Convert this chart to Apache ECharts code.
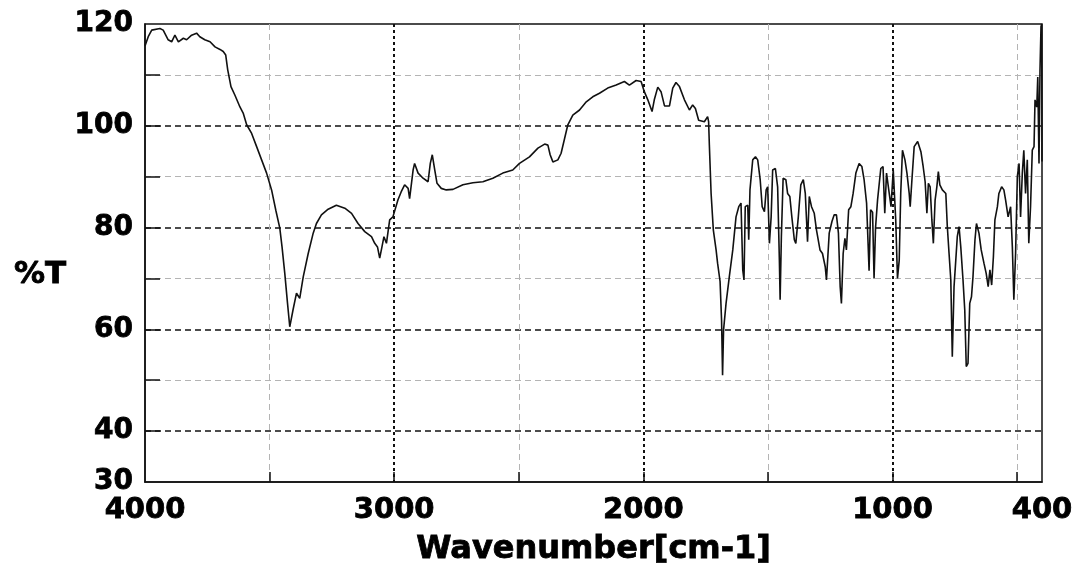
<!DOCTYPE html>
<html>
<head>
<meta charset="utf-8">
<script src="https://cdn.jsdelivr.net/npm/echarts@6/dist/echarts.min.js"></script>
<style>
html, body { margin: 0; padding: 0; background: #fff; }
#chart { width: 1075px; height: 567px; }
</style>
</head>
<body>
<div id="chart"></div>
<script>
// IR spectrum
const wavenumber = [
    4000, 3987, 3973, 3940, 3927, 3907, 3893, 3880, 3866, 3846, 3833, 3813, 3793, 3780, 3760, 3739,
    3719, 3699, 3686, 3676, 3668, 3655, 3639, 3619, 3606, 3592, 3572, 3552, 3532, 3512, 3492, 3475,
    3459, 3450, 3439, 3428, 3419, 3412, 3406, 3392, 3379, 3365, 3345, 3325, 3312, 3292, 3265, 3232,
    3198, 3171, 3145, 3118, 3091, 3078, 3067, 3058, 3049, 3041, 3031, 3018, 3005, 2985, 2972, 2958,
    2944, 2938, 2924, 2918, 2904, 2884, 2864, 2855, 2847, 2837, 2828, 2811, 2791, 2764, 2724, 2684,
    2644, 2604, 2564, 2524, 2497, 2457, 2423, 2396, 2383, 2374, 2363, 2343, 2330, 2316, 2303, 2283,
    2256, 2229, 2203, 2176, 2143, 2109, 2076, 2056, 2029, 2009, 1996, 1982, 1965, 1956, 1942, 1929,
    1915, 1895, 1882, 1869, 1855, 1835, 1815, 1802, 1791, 1778, 1755, 1742, 1738, 1735, 1728, 1719,
    1708, 1702, 1692, 1686, 1682, 1678, 1668, 1655, 1641, 1628, 1617, 1608, 1601, 1596, 1591, 1581,
    1577, 1572, 1561, 1550, 1541, 1531, 1523, 1514, 1507, 1501, 1494, 1487, 1481, 1470, 1461, 1454,
    1451, 1446, 1439, 1428, 1421, 1412, 1404, 1394, 1388, 1378, 1368, 1358, 1350, 1345, 1341, 1334,
    1325, 1314, 1305, 1291, 1281, 1270, 1265, 1254, 1243, 1234, 1225, 1217, 1210, 1205, 1198, 1191,
    1185, 1176, 1167, 1158, 1147, 1134, 1123, 1114, 1104, 1094, 1088, 1080, 1074, 1068, 1060, 1047,
    1038, 1031, 1024, 1016, 1006, 997, 987, 980, 973, 967, 960, 950, 942, 933, 929, 922,
    913, 899, 886, 877, 869, 862, 856, 849, 842, 836, 829, 822, 816, 810, 800, 786,
    780, 773, 766, 760, 753, 746, 740, 733, 726, 717, 710, 704, 697, 690, 683, 677,
    669, 663, 653, 644, 633, 624, 616, 609, 602, 595, 589, 579, 573, 562, 553, 546,
    536, 526, 519, 513, 506, 499, 492, 486, 479, 473, 466, 459, 453, 446, 439, 432,
    428, 421, 417, 412, 408, 404, 401, 400
];
const transmittance = [
    115.7, 117.5, 118.8, 119.1, 118.8, 116.9, 116.5, 117.8, 116.5, 117.2, 116.9, 117.8, 118.2, 117.5, 116.9, 116.5,
    115.5, 115.0, 114.6, 113.9, 111.0, 107.7, 106.0, 103.7, 102.5, 100.2, 98.5, 95.9, 93.3, 90.7, 87.4, 83.4,
    79.9, 76.2, 71.0, 65.1, 60.5, 60.2, 63.8, 67.1, 66.1, 70.3, 74.9, 78.9, 80.8, 82.5, 83.6, 84.4,
    83.8, 82.8, 80.8, 79.2, 78.2, 76.9, 76.2, 74.0, 76.2, 78.2, 76.9, 81.5, 82.1, 85.4, 87.0, 88.4,
    87.7, 85.7, 91.3, 92.6, 90.7, 89.7, 89.0, 92.6, 94.3, 91.3, 88.7, 87.7, 87.4, 87.5, 88.4, 88.8,
    89.0, 89.7, 90.7, 91.3, 92.6, 93.9, 95.6, 96.4, 96.2, 94.3, 92.9, 93.3, 94.6, 97.5, 100.2, 102.1,
    103.1, 104.7, 105.7, 106.4, 107.4, 108.0, 108.7, 108.0, 108.9, 108.7, 106.7, 105.1, 102.8, 105.1, 107.6, 106.7,
    103.9, 103.9, 107.4, 108.5, 107.7, 105.1, 103.1, 104.1, 103.4, 101.1, 100.8, 101.8, 100.8, 96.2, 86.7, 79.5,
    75.6, 73.0, 69.4, 61.8, 51.0, 59.9, 65.1, 70.3, 75.6, 82.1, 84.1, 84.8, 71.7, 69.7, 84.1, 84.4,
    77.6, 87.4, 93.3, 93.9, 93.3, 89.4, 84.1, 83.1, 87.4, 88.0, 76.9, 82.1, 91.3, 91.6, 88.0, 73.6,
    65.8, 78.2, 89.7, 89.4, 86.7, 86.1, 82.1, 77.6, 76.9, 82.1, 88.4, 89.4, 86.7, 81.5, 77.2, 86.1,
    84.1, 82.8, 79.5, 75.6, 74.9, 72.3, 69.7, 78.9, 81.2, 82.5, 82.5, 78.9, 68.4, 65.1, 74.9, 77.9,
    75.6, 83.5, 84.1, 86.7, 90.7, 92.6, 92.0, 89.4, 84.8, 71.5, 83.5, 83.0, 70.0, 80.0, 85.4, 91.6,
    92.0, 82.8, 90.7, 91.0, 84.1, 91.3, 81.5, 70.0, 73.6, 86.7, 95.2, 93.3, 90.7, 86.7, 84.1, 89.4,
    95.9, 96.9, 94.9, 92.0, 89.0, 82.8, 88.7, 88.0, 81.5, 76.9, 85.4, 88.0, 91.0, 88.4, 87.4, 86.7,
    80.2, 74.9, 69.7, 54.6, 68.4, 73.6, 78.2, 80.2, 76.2, 69.7, 63.8, 52.7, 53.3, 65.1, 66.4, 70.3,
    77.6, 80.8, 78.9, 75.6, 73.0, 71.0, 68.4, 71.7, 68.7, 74.3, 81.5, 84.1, 86.7, 88.0, 87.4, 85.4,
    82.1, 84.1, 76.2, 65.8, 74.9, 90.0, 92.6, 82.1, 90.7, 95.2, 86.7, 93.3, 76.9, 84.1, 95.2, 95.9,
    105.1, 103.7, 109.6, 92.6, 111.0, 119.5, 120, 93
];

const xLabelValues = [4000, 3000, 2000, 1000, 400];
const xTickValues = [3500, 3000, 2500, 2000, 1500, 1000, 500];
const xMajorGrid = [3000, 2000, 1000];
const xMinorGrid = [3500, 2500, 1500, 500];

const yLabelValues = [30, 40, 60, 80, 100, 120];
const yTickValues = [40, 50, 60, 70, 80, 90, 100, 110];
const yMajorGrid = [40, 60, 80, 100];
const yMinorGrid = [50, 70, 90, 110];

const FONT = 'DejaVu Sans';
// heavy black text like the original print
const heavyText = (size) => ({
    fontFamily: FONT, fontWeight: 'bold', fontSize: size, color: '#000',
    textBorderColor: '#000', textBorderWidth: 0.8
});
const majorLine = { color: '#111', width: 1.6, type: [6, 4] };
const majorLineV = { color: '#111', width: 2, type: [3, 3] };
const minorLine = { color: '#b4b4b4', width: 1, type: [6, 4] };

// extra hidden axes only to draw the two kinds of grid lines
function gridAxis(kind, values, style) {
    const base = kind === 'x'
        ? { min: 400, max: 4000, inverse: true }
        : { min: 30, max: 120 };
    return Object.assign(base, {
        type: 'value',
        axisLine: { show: false },
        axisLabel: { show: false },
        axisTick: { show: false, customValues: values },
        splitLine: { show: true, lineStyle: style }
    });
}

const chart = echarts.init(document.getElementById('chart'));
const option = {
    animation: false,
    backgroundColor: '#fff',
    grid: {
        left: 145, right: 33, top: 24, bottom: 85,
        outerBoundsMode: 'none',
        containLabel: false,
        show: true, borderColor: '#111', borderWidth: 1.5
    },
    title: {
        text: '%T',
        left: 9, top: 254,
        textStyle: heavyText(31)
    },
    xAxis: [
        {
            type: 'value', min: 400, max: 4000, inverse: true, position: 'bottom',
            name: 'Wavenumber[cm-1]', nameLocation: 'middle', nameGap: 52,
            nameTextStyle: heavyText(32),
            axisLine: { show: true, lineStyle: { color: '#111', width: 1.5 } },
            axisTick: { show: true, inside: true, length: 10, customValues: xTickValues,
                lineStyle: { color: '#111', width: 1.5 } },
            axisLabel: Object.assign({ customValues: xLabelValues, margin: 14,
                formatter: (v) => String(v) }, heavyText(29)),
            splitLine: { show: false }
        },
        gridAxis('x', xMinorGrid, minorLine),
        gridAxis('x', xMajorGrid, majorLineV)
    ],
    yAxis: [
        {
            type: 'value', min: 30, max: 120, position: 'left',
            axisLine: { show: true, lineStyle: { color: '#111', width: 1.5 } },
            axisTick: { show: true, inside: true, length: 15, customValues: yTickValues,
                lineStyle: { color: '#111', width: 1.5 } },
            axisLabel: Object.assign({ customValues: yLabelValues, margin: 12 }, heavyText(28)),
            splitLine: { show: false }
        },
        gridAxis('y', yMinorGrid, minorLine),
        gridAxis('y', yMajorGrid, majorLine)
    ],
    series: [{
        type: 'line',
        xAxisIndex: 0,
        yAxisIndex: 0,
        showSymbol: false,
        data: wavenumber.map((w, i) => [w, transmittance[i]]),
        lineStyle: { color: '#111', width: 1.6 },
        z: 5
    }]
};
chart.setOption(option);
</script>
</body>
</html>
